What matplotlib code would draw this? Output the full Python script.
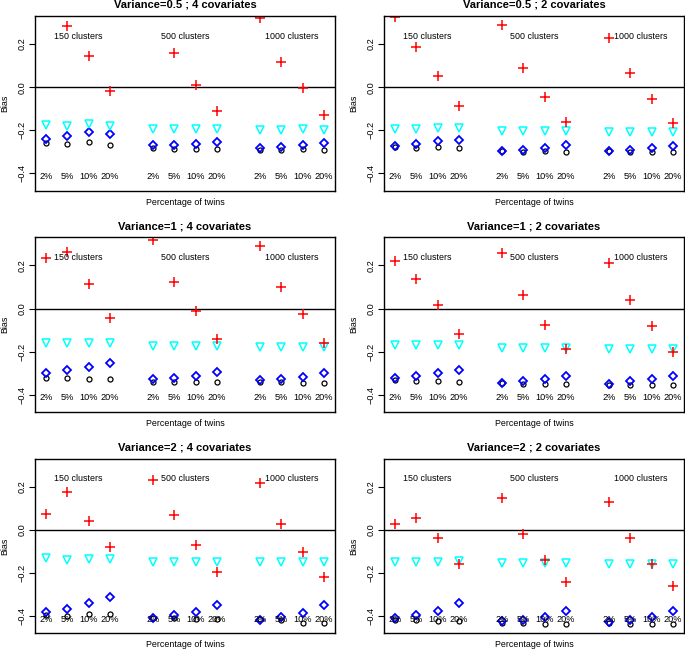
import matplotlib
matplotlib.use("Agg")
import matplotlib.pyplot as plt
import numpy as np

plt.rcParams['font.family'] = ['Liberation Sans', 'DejaVu Sans']

# позиции по оси x: 3 группы кластеров по 4 доли близнецов
x_pos = [1, 2, 3, 4, 6, 7, 8, 9, 11, 12, 13, 14]
pct_labels = ["2%", "5%", "10%", "20%"] * 3
cluster_labels = ["150 clusters", "500 clusters", "1000 clusters"]
cluster_x = [2.5, 7.5, 12.5]

titles = [
    "Variance=0.5 ; 4 covariates", "Variance=0.5 ; 2 covariates",
    "Variance=1 ; 4 covariates", "Variance=1 ; 2 covariates",
    "Variance=2 ; 4 covariates", "Variance=2 ; 2 covariates",
]

# смещение оценок (красные кресты)
red = [
    [0.42, 0.283, 0.147, -0.016, 0.40, 0.161, 0.009, -0.111, 0.322, 0.117, -0.003, -0.128],
    [0.327, 0.186, 0.052, -0.089, 0.289, 0.088, -0.044, -0.161, 0.228, 0.066, -0.053, -0.167],
    [0.234, 0.263, 0.116, -0.042, 0.317, 0.125, -0.013, -0.141, 0.289, 0.102, -0.025, -0.159],
    [0.220, 0.139, 0.017, -0.120, 0.256, 0.061, -0.077, -0.188, 0.211, 0.041, -0.083, -0.202],
    [0.074, 0.174, 0.039, -0.079, 0.229, 0.069, -0.071, -0.196, 0.215, 0.027, -0.105, -0.217],
    [0.025, 0.057, -0.036, -0.159, 0.149, -0.019, -0.140, -0.240, 0.130, -0.036, -0.159, -0.259],
]
# голубые треугольники
cyan = [
    [-0.173, -0.178, -0.169, -0.178, -0.194, -0.194, -0.194, -0.194, -0.197, -0.198, -0.196, -0.198],
    [-0.192, -0.194, -0.189, -0.189, -0.205, -0.205, -0.205, -0.205, -0.208, -0.208, -0.208, -0.208],
    [-0.159, -0.159, -0.159, -0.159, -0.175, -0.175, -0.175, -0.175, -0.178, -0.178, -0.178, -0.178],
    [-0.169, -0.169, -0.169, -0.169, -0.183, -0.183, -0.183, -0.183, -0.186, -0.186, -0.186, -0.189],
    [-0.130, -0.138, -0.135, -0.137, -0.149, -0.149, -0.149, -0.149, -0.151, -0.151, -0.151, -0.151],
    [-0.148, -0.148, -0.148, -0.143, -0.154, -0.154, -0.154, -0.154, -0.157, -0.157, -0.157, -0.157],
]
# синие ромбы
blue = [
    [-0.238, -0.227, -0.209, -0.219, -0.270, -0.269, -0.264, -0.253, -0.281, -0.277, -0.267, -0.258],
    [-0.275, -0.264, -0.248, -0.244, -0.295, -0.291, -0.280, -0.267, -0.295, -0.291, -0.283, -0.272],
    [-0.300, -0.284, -0.272, -0.255, -0.328, -0.323, -0.311, -0.294, -0.333, -0.327, -0.317, -0.298],
    [-0.322, -0.311, -0.300, -0.284, -0.344, -0.338, -0.327, -0.311, -0.350, -0.338, -0.327, -0.311],
    [-0.380, -0.369, -0.339, -0.311, -0.410, -0.397, -0.380, -0.350, -0.416, -0.405, -0.386, -0.350],
    [-0.408, -0.396, -0.378, -0.341, -0.425, -0.418, -0.403, -0.377, -0.427, -0.418, -0.403, -0.378],
]
# чёрные кружки
black = [
    [-0.259, -0.263, -0.253, -0.269, -0.283, -0.286, -0.286, -0.286, -0.291, -0.292, -0.288, -0.292],
    [-0.277, -0.281, -0.277, -0.281, -0.297, -0.300, -0.298, -0.302, -0.297, -0.302, -0.302, -0.302],
    [-0.320, -0.322, -0.325, -0.325, -0.339, -0.339, -0.339, -0.339, -0.342, -0.342, -0.345, -0.347],
    [-0.331, -0.336, -0.338, -0.341, -0.347, -0.350, -0.350, -0.352, -0.353, -0.353, -0.353, -0.355],
    [-0.395, -0.400, -0.390, -0.390, -0.410, -0.410, -0.415, -0.415, -0.415, -0.420, -0.430, -0.430],
    [-0.420, -0.420, -0.425, -0.425, -0.430, -0.430, -0.435, -0.435, -0.430, -0.435, -0.435, -0.435],
]

fig = plt.figure(figsize=(6.85, 6.49), dpi=100)
lefts = [0.0511, 0.5606]
bottoms = [0.7062, 0.3652, 0.0242]
W, H = 0.438, 0.269

for k in range(6):
    row, col = divmod(k, 2)
    ax = fig.add_axes([lefts[col], bottoms[row], W, H])
    ax.set_xlim(0.48, 14.52)
    ax.set_ylim(-0.48, 0.33)
    ax.axhline(0, color="black", lw=1)

    ax.plot(x_pos, black[k], ls="none", marker="o", ms=3.6, mfc="none", mec="black", mew=0.9)
    ax.plot(x_pos, blue[k], ls="none", marker="D", ms=4.2, mfc="none", mec="blue", mew=1.3)
    ax.plot(x_pos, cyan[k], ls="none", marker="v", ms=5.8, mfc="none", mec="cyan", mew=1.1)
    ax.plot(x_pos, red[k], ls="none", marker="+", ms=7, mec="red", mew=1.1)

    for xx, lab in zip(x_pos, pct_labels):
        ax.text(xx, -0.415, lab, ha="center", va="center", fontsize=6.6)
    for xx, lab in zip(cluster_x, cluster_labels):
        ax.text(xx, 0.237, lab, ha="center", va="center", fontsize=6.4)

    ax.set_xticks([])
    ax.set_yticks([-0.4, -0.2, 0.0, 0.2])
    ax.set_yticklabels(["\u22120.4", "\u22120.2", "0.0", "0.2"], rotation=90, va="center", fontsize=6.6)
    ax.tick_params(axis="y", length=4, width=0.8, pad=2)
    for s in ax.spines.values():
        s.set_linewidth(1)
    ax.set_ylabel("Bias", fontsize=6.4, labelpad=6)
    ax.set_xlabel("Percentage of twins", fontsize=6.4, labelpad=5)
    ax.set_title(titles[k], fontsize=8, fontweight="bold", pad=6)

fig.savefig("out.png", dpi=100)
